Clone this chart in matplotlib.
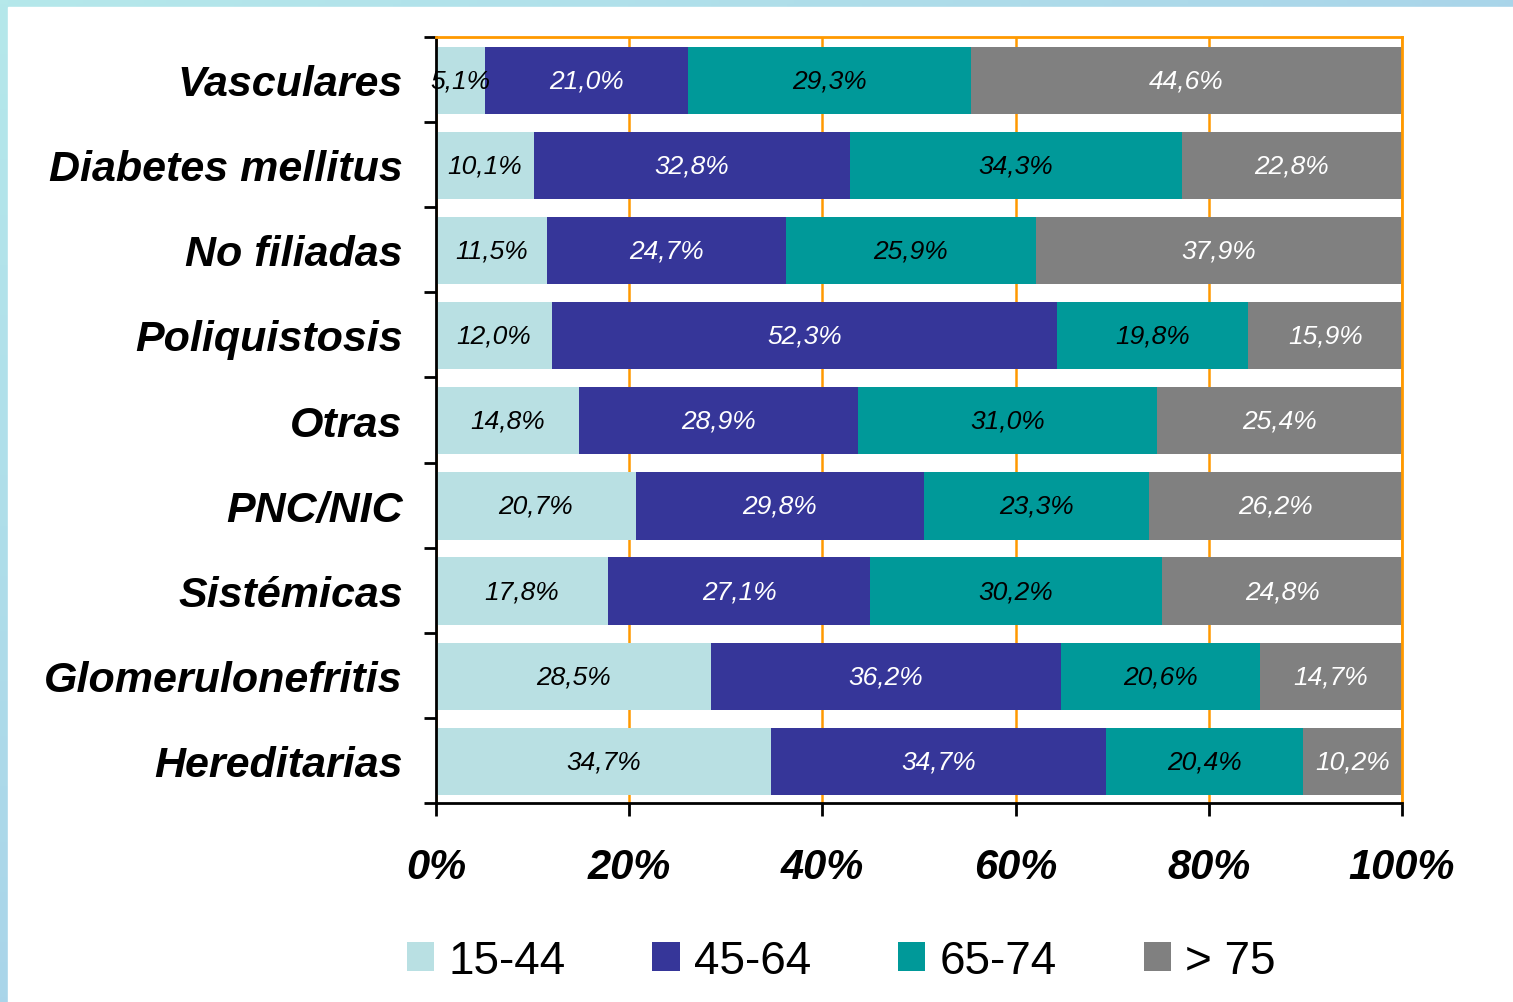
import numpy as np
import matplotlib.pyplot as plt
from matplotlib.patches import Rectangle

plt.rcParams["font.family"] = ["Liberation Sans", "DejaVu Sans"]

categories = ["Vasculares", "Diabetes mellitus", "No filiadas", "Poliquistosis",
              "Otras", "PNC/NIC", "Sistémicas", "Glomerulonefritis", "Hereditarias"]
age_groups = ["15-44", "45-64", "65-74", "> 75"]
pct_15_44 = [5.1, 10.1, 11.5, 12.0, 14.8, 20.7, 17.8, 28.5, 34.7]
pct_45_64 = [21.0, 32.8, 24.7, 52.3, 28.9, 29.8, 27.1, 36.2, 34.7]
pct_65_74 = [29.3, 34.3, 25.9, 19.8, 31.0, 23.3, 30.2, 20.6, 20.4]
pct_75 = [44.6, 22.8, 37.9, 15.9, 25.4, 26.2, 24.8, 14.7, 10.2]
x_ticks = [0, 20, 40, 60, 80, 100]

colors = ["#b9e0e3", "#363699", "#009999", "#808080"]
text_colors = ["black", "white", "black", "white"]
orange = "#ff9900"

W, H = 1513, 1003
fig = plt.figure(figsize=(W / 100, H / 100), dpi=100)

# gradient frame behind everything
bg = fig.add_axes([0, 0, 1, 1], zorder=-10)
gx, gy = np.meshgrid(np.linspace(0, 1, 200), np.linspace(0, 1, 200))
t = (gx + gy) / 2
c0 = np.array([0.71, 0.91, 0.92])
c1 = np.array([0.62, 0.76, 0.91])
img = c0[None, None, :] * (1 - t[..., None]) + c1[None, None, :] * t[..., None]
bg.imshow(img, extent=[0, 1, 0, 1], aspect="auto", origin="upper")
bg.add_patch(Rectangle((8 / W, 0), 1, 1 - 8 / H, color="white", transform=bg.transAxes))
bg.set_xlim(0, 1)
bg.set_ylim(0, 1)
bg.axis("off")

ax = fig.add_axes([436 / W, 1 - 804 / H, (1402 - 436) / W, (804 - 38) / H])

series = np.array([pct_15_44, pct_45_64, pct_65_74, pct_75])
series = series / series.sum(axis=0) * 100
y = np.arange(len(categories))
left = np.zeros(len(categories))
raw = [pct_15_44, pct_45_64, pct_65_74, pct_75]
for i, name in enumerate(age_groups):
    bars = ax.barh(y + 0.01, series[i], left=left, height=0.79, color=colors[i],
                   label=name, zorder=2)
    labels = [f"{v:.1f}%".replace(".", ",") for v in raw[i]]
    ax.bar_label(bars, labels=labels, label_type="center", color=text_colors[i],
                 fontsize=19, fontstyle="italic")
    left += series[i]

ax.set_xlim(0, 100)
ax.set_ylim(len(categories) - 0.5, -0.5)

ax.set_xticks(x_ticks)
ax.set_xticklabels([f"{v}%" for v in x_ticks], fontsize=30, fontweight="bold",
                   fontstyle="italic")
ax.tick_params(axis="x", length=9, width=2, pad=23, direction="out")

ax.set_yticks(np.arange(len(categories) + 1) - 0.5)
ax.set_yticklabels([])
ax.set_yticks(y, minor=True)
ax.set_yticklabels(categories, minor=True, fontsize=31, fontweight="bold",
                   fontstyle="italic")
ax.tick_params(axis="y", which="major", length=9, width=2, direction="out")
ax.tick_params(axis="y", which="minor", length=0, pad=24)

ax.grid(axis="x", color=orange, linewidth=1.8, zorder=0)
ax.set_axisbelow(True)
for side in ["top", "right"]:
    ax.spines[side].set_color(orange)
    ax.spines[side].set_linewidth(2)
for side in ["left", "bottom"]:
    ax.spines[side].set_color("black")
    ax.spines[side].set_linewidth(2)

fig.legend(loc="center", bbox_to_anchor=(841 / W, 1 - 962 / H), ncol=4,
           frameon=False, fontsize=33, handlelength=0.6, handleheight=0.6,
           handletextpad=0.3, columnspacing=1.9)

fig.savefig("out.png", dpi=100)
